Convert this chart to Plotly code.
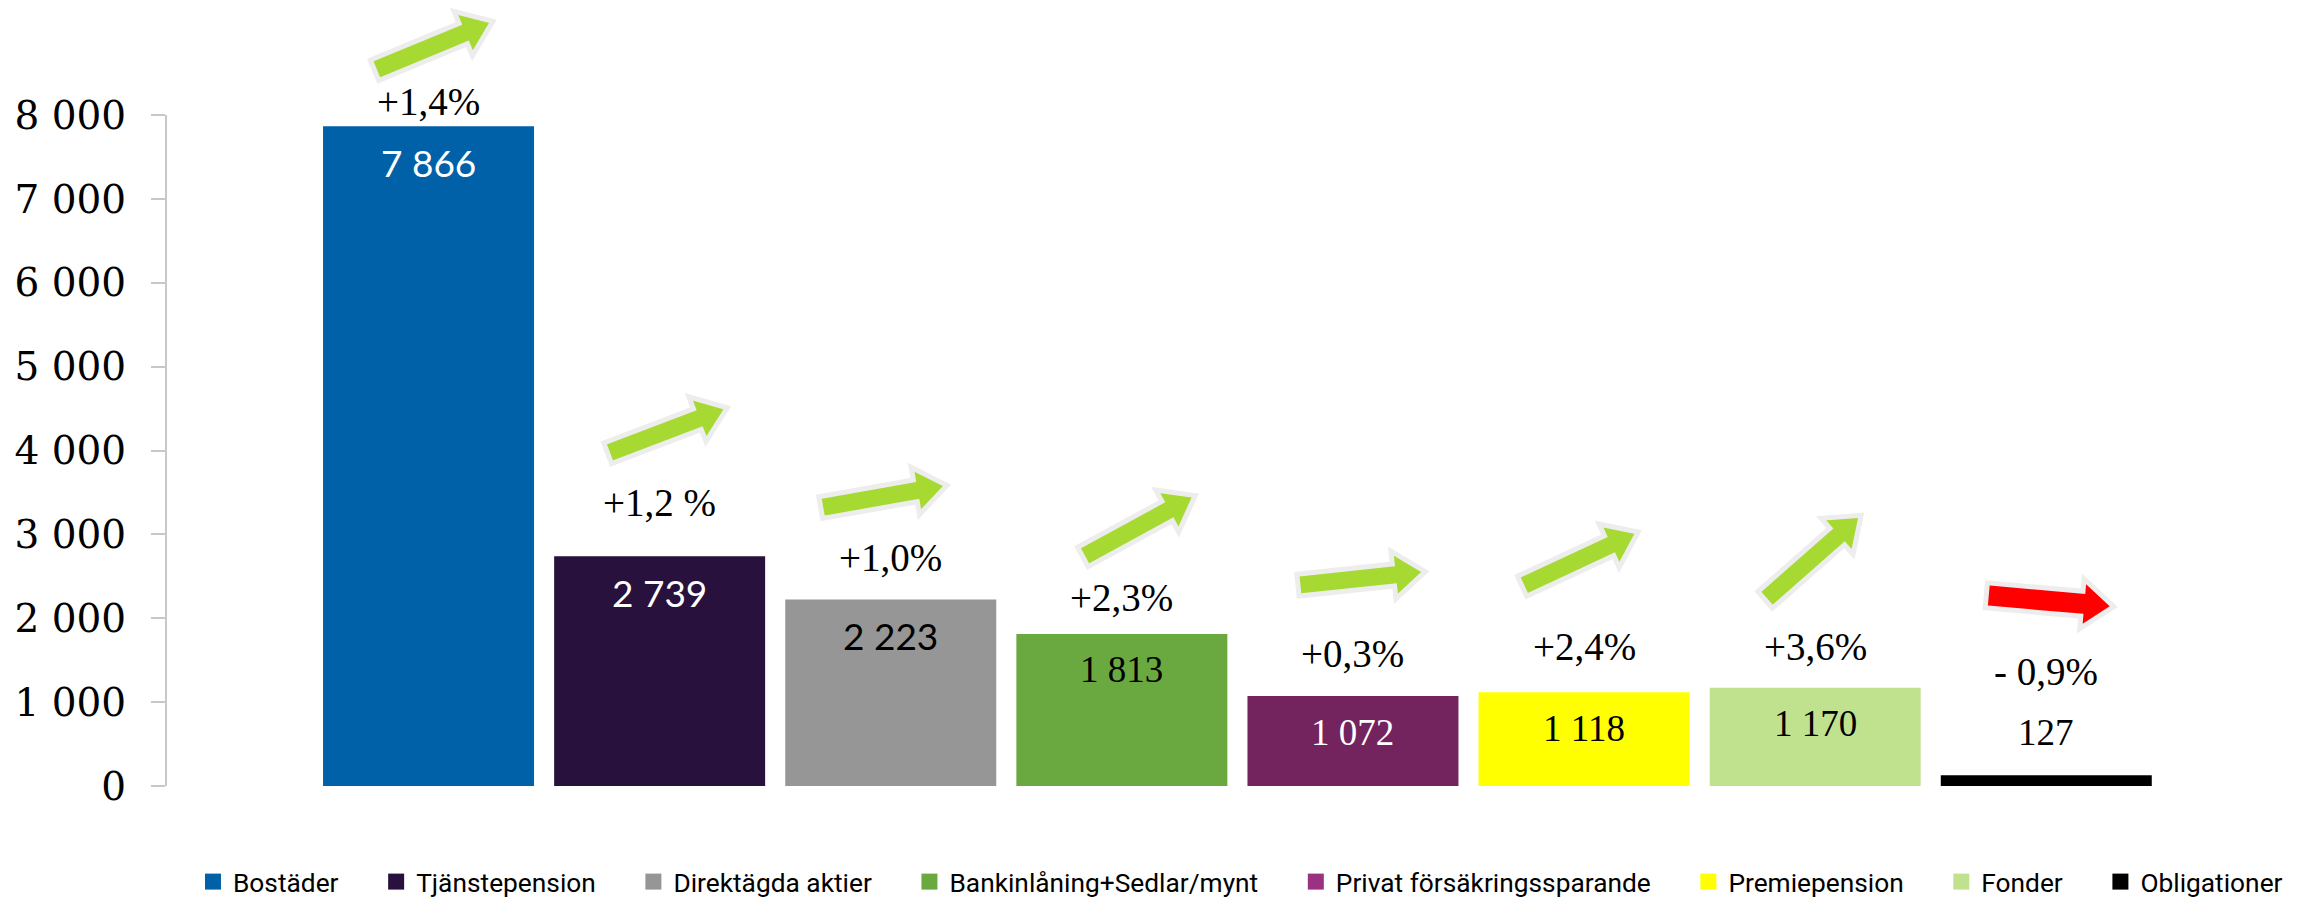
import math
import plotly.graph_objects as go

# Data
categories = ["Bostäder", "Tjänstepension", "Direktägda aktier", "Bankinlåning+Sedlar/mynt",
              "Privat försäkringssparande", "Premiepension", "Fonder", "Obligationer"]
values = [7866, 2739, 2223, 1813, 1072, 1118, 1170, 127]
changes = [1.4, 1.2, 1.0, 2.3, 0.3, 2.4, 3.6, -0.9]
change_labels = ["+1,4%", "+1,2 %", "+1,0%", "+2,3%", "+0,3%", "+2,4%", "+3,6%", "- 0,9%"]
y_ticks = [0, 1000, 2000, 3000, 4000, 5000, 6000, 7000, 8000]

# Styles
bar_colors = ["#0061A8", "#28113C", "#969696", "#6AA940", "#73235E", "#FFFF00", "#C0E28E", "#000000"]
legend_colors = ["#0061A8", "#28113C", "#969696", "#6AA940", "#9B3183", "#FFFF00", "#C0E28E", "#000000"]
value_font_colors = ["white", "white", "black", "black", "white", "black", "black", "black"]
value_fonts = ["Lato", "Lato", "Lato", "Liberation Serif", "Liberation Serif",
               "Liberation Serif", "Liberation Serif", "Liberation Serif"]
pct_offsets = [25, 54, 42, 36, 43, 46, 41, 104]      # px above bar top
# arrow: tail offset from (bar centre, bar top) in screen px, angle in degrees
arrow_tails = [(-54, -56), (-52, -103), (-70, -92), (-39, -77), (-55, -111), (-62, -106), (-50, -88), (-60, -180)]
arrow_angles = [22.5, 20.8, 10, 28.6, 6, 25, 41.4, -5]

fig = go.Figure()

for i, (cat, v) in enumerate(zip(categories, values)):
    fig.add_trace(go.Bar(
        x=[i], y=[v], name=cat, width=0.913,
        marker=dict(color=bar_colors[i], line=dict(width=0)),
        showlegend=False, hoverinfo="skip"
    ))

# legend entries (square markers)
pad = "\u00a0" * 5
for i, cat in enumerate(categories):
    fig.add_trace(go.Scatter(
        x=[None], y=[None], mode="markers", name=cat + (pad if i < len(categories) - 1 else ""),
        marker=dict(symbol="square", size=16, color=legend_colors[i]),
        showlegend=True
    ))


def arrow_path(tx, ty, ang, length=128, shaft=22, head=48, head_len=32):
    a = math.radians(ang)
    ux, uy = math.cos(a), -math.sin(a)
    nx, ny = math.sin(a), math.cos(a)
    b = length - head_len
    pts = [
        (tx + nx * shaft / 2, ty + ny * shaft / 2),
        (tx + ux * b + nx * shaft / 2, ty + uy * b + ny * shaft / 2),
        (tx + ux * b + nx * head / 2, ty + uy * b + ny * head / 2),
        (tx + ux * length, ty + uy * length),
        (tx + ux * b - nx * head / 2, ty + uy * b - ny * head / 2),
        (tx + ux * b - nx * shaft / 2, ty + uy * b - ny * shaft / 2),
        (tx - nx * shaft / 2, ty - ny * shaft / 2),
    ]
    # pixel sizemode: y offsets point upward
    return "M" + " L".join(f"{px:.1f},{-py:.1f}" for px, py in pts) + " Z"


shapes = []
for i, v in enumerate(values):
    tx, ty = arrow_tails[i]
    neg = changes[i] < 0
    shapes.append(dict(
        type="path", xref="x", yref="y", xsizemode="pixel", ysizemode="pixel",
        xanchor=i, yanchor=v,
        path=arrow_path(tx, ty, arrow_angles[i], shaft=25 if neg else 22, head=50 if neg else 48),
        fillcolor="#FF0000" if neg else "#A6D932",
        line=dict(color="#EDEDED", width=5), layer="above"
    ))

# y axis line only up to 8000
shapes.append(dict(type="line", xref="paper", yref="y", x0=0, x1=0, y0=0, y1=y_ticks[-1],
                   line=dict(color="#C8C8C8", width=2), layer="below"))

annotations = []
for i, v in enumerate(values):
    inside = v > 500
    annotations.append(dict(
        x=i, y=v, xref="x", yref="y", text=f"{v:,}".replace(",", " "),
        showarrow=False, yanchor="middle", yshift=-36 if inside else 43,
        font=dict(family=value_fonts[i], size=37, color=value_font_colors[i])
    ))
    annotations.append(dict(
        x=i, y=v, xref="x", yref="y", text=change_labels[i],
        showarrow=False, yanchor="middle", yshift=pct_offsets[i],
        font=dict(family="Liberation Serif", size=39, color="black")
    ))

# page body has an 8px margin, so the figure is 8px smaller than the window
fig.update_layout(
    width=2305, height=890,
    barmode="overlay",
    separators=", ",
    paper_bgcolor="white", plot_bgcolor="white",
    margin=dict(l=158, r=40, t=0, b=112, autoexpand=False),
    shapes=shapes, annotations=annotations,
    showlegend=True,
    legend=dict(orientation="h", x=0.0128, xanchor="left", y=-0.1234, yanchor="middle",
                font=dict(family="Roboto", size=26.3, color="black"),
                itemclick=False, itemdoubleclick=False),
    xaxis=dict(visible=False, range=[-1.136, 7.981]),
    yaxis=dict(range=[0, 9276], tickvals=y_ticks, tickformat=",d",
               showgrid=False, zeroline=False, showline=False, automargin=False,
               ticks="outside", ticklen=14, tickwidth=2, tickcolor="#C8C8C8",
               ticklabelstandoff=17,
               tickfont=dict(family="DejaVu Serif", size=39, color="black")),
)

fig.write_html("out.html")
